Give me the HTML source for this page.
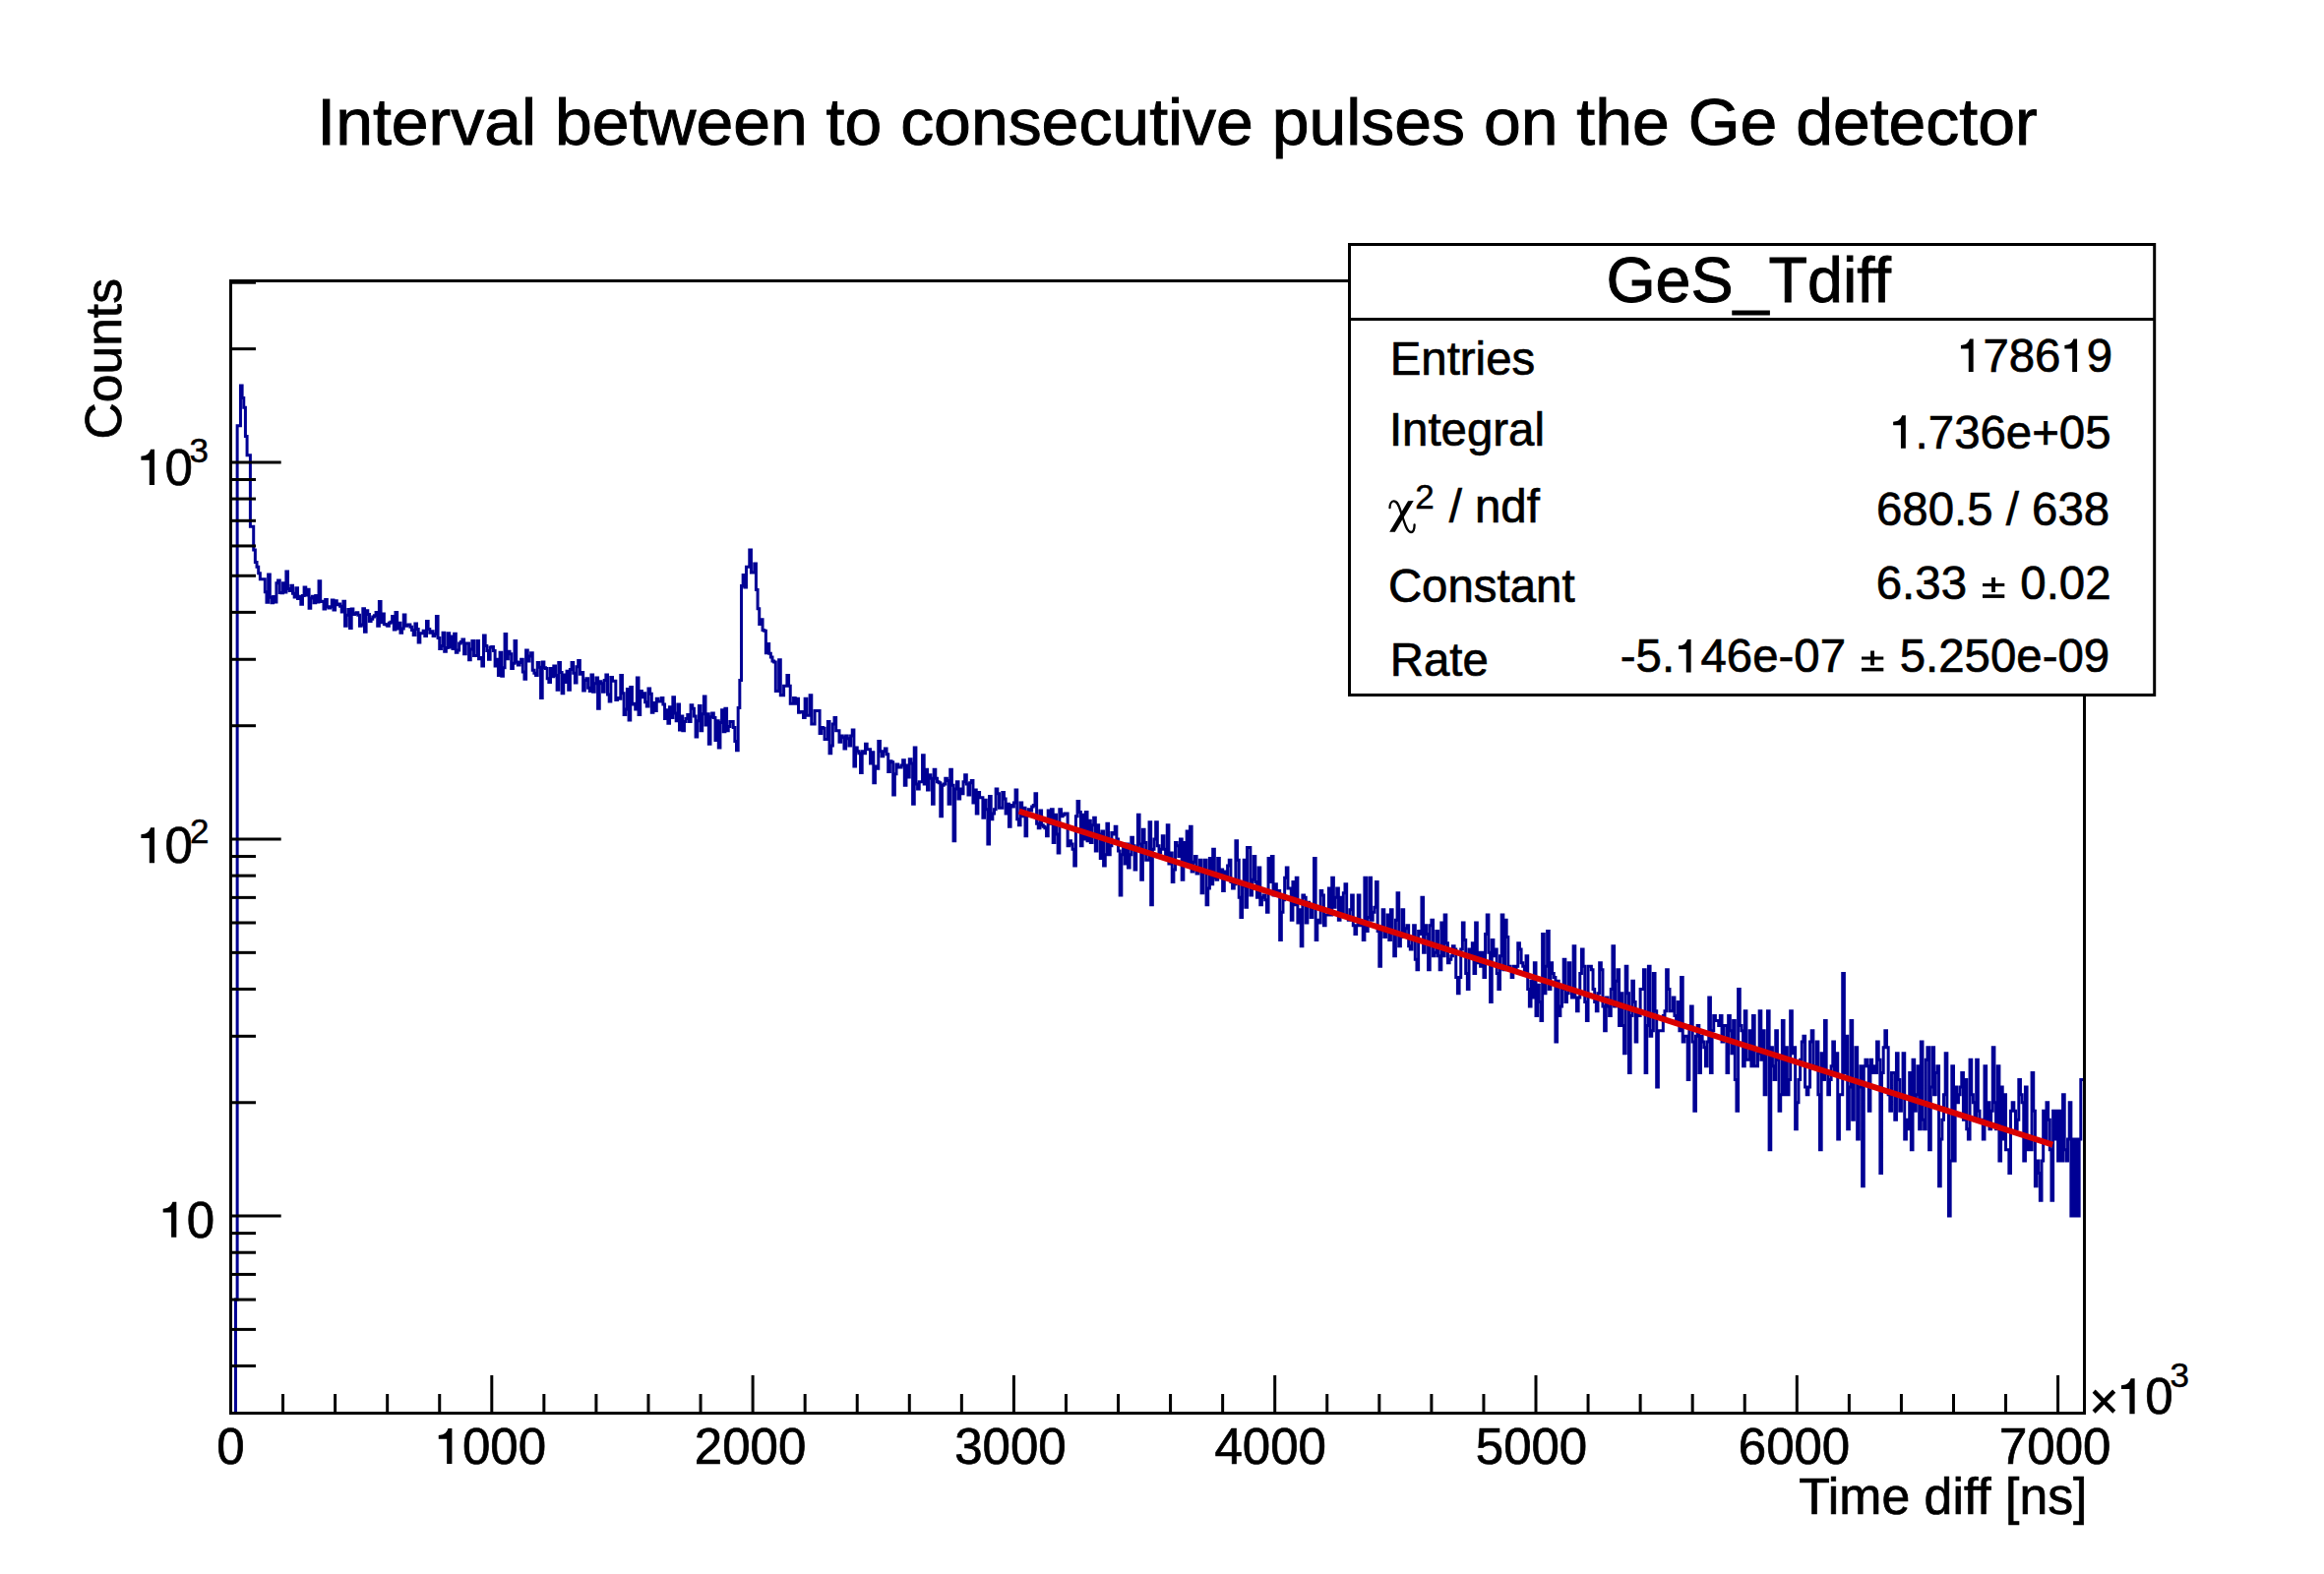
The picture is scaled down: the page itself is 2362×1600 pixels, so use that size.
<!DOCTYPE html>
<html><head><meta charset="utf-8"><title>GeS_Tdiff</title>
<style>html,body{margin:0;padding:0;background:#fff;}svg{display:block;}</style>
</head><body>
<svg width="2362" height="1600" viewBox="0 0 2362 1600" font-family='"Liberation Sans", sans-serif' fill="#000">
<rect x="0" y="0" width="2362" height="1600" fill="#fff"/>
<text x="322.30" y="147.10" font-size="67" text-anchor="start" stroke="#000" stroke-width="0.94" textLength="1748.3" lengthAdjust="spacingAndGlyphs">Interval between to consecutive pulses on the Ge detector</text>
<path d="M239.47 1436.50 L239.47 1321.07 L241.13 1321.07 L241.13 432.71 L242.79 432.71 L242.79 432.71 L244.45 432.71 L244.45 392.09 L246.11 392.09 L246.11 404.52 L247.77 404.52 L247.77 414.35 L249.42 414.35 L249.42 443.42 L251.08 443.42 L251.08 462.81 L252.74 462.81 L252.74 462.81 L254.40 462.81 L254.40 535.36 L256.06 535.36 L256.06 535.36 L257.71 535.36 L257.71 558.88 L259.37 558.88 L259.37 571.56 L261.03 571.56 L261.03 576.22 L262.69 576.22 L262.69 582.64 L264.35 582.64 L264.35 588.64 L266.00 588.64 L266.00 588.64 L267.66 588.64 L267.66 588.64 L269.32 588.64 L269.32 601.71 L270.98 601.71 L270.98 612.32 L272.64 612.32 L272.64 583.96 L274.30 583.96 L274.30 607.31 L275.95 607.31 L275.95 612.71 L277.61 612.71 L277.61 606.55 L279.27 606.55 L279.27 611.93 L280.93 611.93 L280.93 592.77 L282.59 592.77 L282.59 590.01 L284.24 590.01 L284.24 602.44 L285.90 602.44 L285.90 602.81 L287.56 602.81 L287.56 592.77 L289.22 592.77 L289.22 602.07 L290.88 602.07 L290.88 581.01 L292.53 581.01 L292.53 598.43 L294.19 598.43 L294.19 600.61 L295.85 600.61 L295.85 595.22 L297.51 595.22 L297.51 603.18 L299.17 603.18 L299.17 606.93 L300.83 606.93 L300.83 597.71 L302.48 597.71 L302.48 608.45 L304.14 608.45 L304.14 606.17 L305.80 606.17 L305.80 614.29 L307.46 614.29 L307.46 605.42 L309.12 605.42 L309.12 597.00 L310.77 597.00 L310.77 605.04 L312.43 605.04 L312.43 599.15 L314.09 599.15 L314.09 618.30 L315.75 618.30 L315.75 608.07 L317.41 608.07 L317.41 606.17 L319.06 606.17 L319.06 612.71 L320.72 612.71 L320.72 605.42 L322.38 605.42 L322.38 611.93 L324.04 611.93 L324.04 590.69 L325.70 590.69 L325.70 611.54 L327.36 611.54 L327.36 611.15 L329.01 611.15 L329.01 619.11 L330.67 619.11 L330.67 609.60 L332.33 609.60 L332.33 616.68 L333.99 616.68 L333.99 617.89 L335.65 617.89 L335.65 616.68 L337.30 616.68 L337.30 609.99 L338.96 609.99 L338.96 619.93 L340.62 619.93 L340.62 610.76 L342.28 610.76 L342.28 614.68 L343.94 614.68 L343.94 613.89 L345.59 613.89 L345.59 616.28 L347.25 616.28 L347.25 621.99 L348.91 621.99 L348.91 611.15 L350.57 611.15 L350.57 636.28 L352.23 636.28 L352.23 625.34 L353.88 625.34 L353.88 619.52 L355.54 619.52 L355.54 638.55 L357.20 638.55 L357.20 619.11 L358.86 619.11 L358.86 624.50 L360.52 624.50 L360.52 623.66 L362.18 623.66 L362.18 622.82 L363.83 622.82 L363.83 625.34 L365.49 625.34 L365.49 636.28 L367.15 636.28 L367.15 634.93 L368.81 634.93 L368.81 618.70 L370.47 618.70 L370.47 642.26 L372.12 642.26 L372.12 620.75 L373.78 620.75 L373.78 624.50 L375.44 624.50 L375.44 631.38 L377.10 631.38 L377.10 629.20 L378.76 629.20 L378.76 627.04 L380.42 627.04 L380.42 625.77 L382.07 625.77 L382.07 622.40 L383.73 622.40 L383.73 636.28 L385.39 636.28 L385.39 611.54 L387.05 611.54 L387.05 632.70 L388.71 632.70 L388.71 624.08 L390.36 624.08 L390.36 634.48 L392.02 634.48 L392.02 634.93 L393.68 634.93 L393.68 636.28 L395.34 636.28 L395.34 633.14 L397.00 633.14 L397.00 632.26 L398.65 632.26 L398.65 626.62 L400.31 626.62 L400.31 639.93 L401.97 639.93 L401.97 622.40 L403.63 622.40 L403.63 639.01 L405.29 639.01 L405.29 633.14 L406.95 633.14 L406.95 643.20 L408.60 643.20 L408.60 639.01 L410.26 639.01 L410.26 624.92 L411.92 624.92 L411.92 636.28 L413.58 636.28 L413.58 635.37 L415.24 635.37 L415.24 634.93 L416.89 634.93 L416.89 637.18 L418.55 637.18 L418.55 640.40 L420.21 640.40 L420.21 645.57 L421.87 645.57 L421.87 634.03 L423.53 634.03 L423.53 639.47 L425.18 639.47 L425.18 652.90 L426.84 652.90 L426.84 643.67 L428.50 643.67 L428.50 643.67 L430.16 643.67 L430.16 641.32 L431.82 641.32 L431.82 646.53 L433.48 646.53 L433.48 631.38 L435.13 631.38 L435.13 639.47 L436.79 639.47 L436.79 643.20 L438.45 643.20 L438.45 641.79 L440.11 641.79 L440.11 646.53 L441.77 646.53 L441.77 644.62 L443.42 644.62 L443.42 626.62 L445.08 626.62 L445.08 648.47 L446.74 648.47 L446.74 659.53 L448.40 659.53 L448.40 656.44 L450.06 656.44 L450.06 643.20 L451.71 643.20 L451.71 662.15 L453.37 662.15 L453.37 658.49 L455.03 658.49 L455.03 643.67 L456.69 643.67 L456.69 657.97 L458.35 657.97 L458.35 647.01 L460.01 647.01 L460.01 659.53 L461.66 659.53 L461.66 644.14 L463.32 644.14 L463.32 663.21 L464.98 663.21 L464.98 661.09 L466.64 661.09 L466.64 653.90 L468.30 653.90 L468.30 652.40 L469.95 652.40 L469.95 649.93 L471.61 649.93 L471.61 664.81 L473.27 664.81 L473.27 653.90 L474.93 653.90 L474.93 653.90 L476.59 653.90 L476.59 670.82 L478.24 670.82 L478.24 660.05 L479.90 660.05 L479.90 651.41 L481.56 651.41 L481.56 666.43 L483.22 666.43 L483.22 666.43 L484.88 666.43 L484.88 651.41 L486.54 651.41 L486.54 669.71 L488.19 669.71 L488.19 668.61 L489.85 668.61 L489.85 677.06 L491.51 677.06 L491.51 646.05 L493.17 646.05 L493.17 656.44 L494.83 656.44 L494.83 661.62 L496.48 661.62 L496.48 670.26 L498.14 670.26 L498.14 657.97 L499.80 657.97 L499.80 657.46 L501.46 657.46 L501.46 661.62 L503.12 661.62 L503.12 677.06 L504.77 677.06 L504.77 670.26 L506.43 670.26 L506.43 686.56 L508.09 686.56 L508.09 663.21 L509.75 663.21 L509.75 687.18 L511.41 687.18 L511.41 678.80 L513.07 678.80 L513.07 644.62 L514.72 644.62 L514.72 669.71 L516.38 669.71 L516.38 662.15 L518.04 662.15 L518.04 664.81 L519.70 664.81 L519.70 679.38 L521.36 679.38 L521.36 674.19 L523.01 674.19 L523.01 651.41 L524.67 651.41 L524.67 673.06 L526.33 673.06 L526.33 675.90 L527.99 675.90 L527.99 673.62 L529.65 673.62 L529.65 670.26 L531.30 670.26 L531.30 682.93 L532.96 682.93 L532.96 690.27 L534.62 690.27 L534.62 661.09 L536.28 661.09 L536.28 671.94 L537.94 671.94 L537.94 666.97 L539.60 666.97 L539.60 663.74 L541.25 663.74 L541.25 681.15 L542.91 681.15 L542.91 684.14 L544.57 684.14 L544.57 686.56 L546.23 686.56 L546.23 673.62 L547.89 673.62 L547.89 678.21 L549.54 678.21 L549.54 709.48 L551.20 709.48 L551.20 673.06 L552.86 673.06 L552.86 678.80 L554.52 678.80 L554.52 679.38 L556.18 679.38 L556.18 689.65 L557.83 689.65 L557.83 693.43 L559.49 693.43 L559.49 679.38 L561.15 679.38 L561.15 687.79 L562.81 687.79 L562.81 677.06 L564.47 677.06 L564.47 686.56 L566.12 686.56 L566.12 701.26 L567.78 701.26 L567.78 673.62 L569.44 673.62 L569.44 683.53 L571.10 683.53 L571.10 704.64 L572.76 704.64 L572.76 685.95 L574.42 685.95 L574.42 693.43 L576.07 693.43 L576.07 682.34 L577.73 682.34 L577.73 701.26 L579.39 701.26 L579.39 680.56 L581.05 680.56 L581.05 673.62 L582.71 673.62 L582.71 684.14 L584.36 684.14 L584.36 694.07 L586.02 694.07 L586.02 677.63 L587.68 677.63 L587.68 671.38 L589.34 671.38 L589.34 685.35 L591.00 685.35 L591.00 683.53 L592.66 683.53 L592.66 701.93 L594.31 701.93 L594.31 691.53 L595.97 691.53 L595.97 689.65 L597.63 689.65 L597.63 699.27 L599.29 699.27 L599.29 702.60 L600.95 702.60 L600.95 685.95 L602.60 685.95 L602.60 703.28 L604.26 703.28 L604.26 694.71 L605.92 694.71 L605.92 689.03 L607.58 689.03 L607.58 720.36 L609.24 720.36 L609.24 692.80 L610.89 692.80 L610.89 694.71 L612.55 694.71 L612.55 703.28 L614.21 703.28 L614.21 691.53 L615.87 691.53 L615.87 685.95 L617.53 685.95 L617.53 706.01 L619.19 706.01 L619.19 713.03 L620.84 713.03 L620.84 688.41 L622.50 688.41 L622.50 692.16 L624.16 692.16 L624.16 692.16 L625.82 692.16 L625.82 711.60 L627.48 711.60 L627.48 709.48 L629.13 709.48 L629.13 710.18 L630.79 710.18 L630.79 686.56 L632.45 686.56 L632.45 704.64 L634.11 704.64 L634.11 726.46 L635.77 726.46 L635.77 721.11 L637.42 721.11 L637.42 700.60 L639.08 700.60 L639.08 731.99 L640.74 731.99 L640.74 698.61 L642.40 698.61 L642.40 715.92 L644.06 715.92 L644.06 715.19 L645.72 715.19 L645.72 721.11 L647.37 721.11 L647.37 689.03 L649.03 689.03 L649.03 726.46 L650.69 726.46 L650.69 702.60 L652.35 702.60 L652.35 708.78 L654.01 708.78 L654.01 704.64 L655.66 704.64 L655.66 713.74 L657.32 713.74 L657.32 718.12 L658.98 718.12 L658.98 699.93 L660.64 699.93 L660.64 705.32 L662.30 705.32 L662.30 724.15 L663.95 724.15 L663.95 714.47 L665.61 714.47 L665.61 722.62 L667.27 722.62 L667.27 710.18 L668.93 710.18 L668.93 713.03 L670.59 713.03 L670.59 713.03 L672.25 713.03 L672.25 709.48 L673.90 709.48 L673.90 715.92 L675.56 715.92 L675.56 730.39 L677.22 730.39 L677.22 721.86 L678.88 721.86 L678.88 735.24 L680.54 735.24 L680.54 718.86 L682.19 718.86 L682.19 729.60 L683.85 729.60 L683.85 708.78 L685.51 708.78 L685.51 724.91 L687.17 724.91 L687.17 732.80 L688.83 732.80 L688.83 715.92 L690.48 715.92 L690.48 741.93 L692.14 741.93 L692.14 728.02 L693.80 728.02 L693.80 742.78 L695.46 742.78 L695.46 733.61 L697.12 733.61 L697.12 730.39 L698.78 730.39 L698.78 726.46 L700.43 726.46 L700.43 733.61 L702.09 733.61 L702.09 716.65 L703.75 716.65 L703.75 720.36 L705.41 720.36 L705.41 728.02 L707.07 728.02 L707.07 748.90 L708.72 748.90 L708.72 732.80 L710.38 732.80 L710.38 717.39 L712.04 717.39 L712.04 742.78 L713.70 742.78 L713.70 725.69 L715.36 725.69 L715.36 708.08 L717.01 708.08 L717.01 736.89 L718.67 736.89 L718.67 725.69 L720.33 725.69 L720.33 756.17 L721.99 756.17 L721.99 728.81 L723.65 728.81 L723.65 724.91 L725.31 724.91 L725.31 729.60 L726.96 729.60 L726.96 752.50 L728.62 752.50 L728.62 732.80 L730.28 732.80 L730.28 759.93 L731.94 759.93 L731.94 734.42 L733.60 734.42 L733.60 721.86 L735.25 721.86 L735.25 743.64 L736.91 743.64 L736.91 720.36 L738.57 720.36 L738.57 742.78 L740.23 742.78 L740.23 738.55 L741.89 738.55 L741.89 733.61 L743.54 733.61 L743.54 733.61 L745.20 733.61 L745.20 739.39 L746.86 739.39 L746.86 753.41 L748.52 753.41 L748.52 762.81 L750.18 762.81 L750.18 719.61 L751.84 719.61 L751.84 691.53 L753.49 691.53 L753.49 595.58 L755.15 595.58 L755.15 584.62 L756.81 584.62 L756.81 597.00 L758.47 597.00 L758.47 576.22 L760.13 576.22 L760.13 576.22 L761.78 576.22 L761.78 558.88 L763.44 558.88 L763.44 581.99 L765.10 581.99 L765.10 581.99 L766.76 581.99 L766.76 573.10 L768.42 573.10 L768.42 599.52 L770.07 599.52 L770.07 618.70 L771.73 618.70 L771.73 634.48 L773.39 634.48 L773.39 629.63 L775.05 629.63 L775.05 640.40 L776.71 640.40 L776.71 641.32 L778.37 641.32 L778.37 663.74 L780.02 663.74 L780.02 654.41 L781.68 654.41 L781.68 664.27 L783.34 664.27 L783.34 668.06 L785.00 668.06 L785.00 671.94 L786.66 671.94 L786.66 673.06 L788.31 673.06 L788.31 702.60 L789.97 702.60 L789.97 702.60 L791.63 702.60 L791.63 670.82 L793.29 670.82 L793.29 706.69 L794.95 706.69 L794.95 706.69 L796.60 706.69 L796.60 697.30 L798.26 697.30 L798.26 697.30 L799.92 697.30 L799.92 686.56 L801.58 686.56 L801.58 697.30 L803.24 697.30 L803.24 715.19 L804.90 715.19 L804.90 715.19 L806.55 715.19 L806.55 709.48 L808.21 709.48 L808.21 715.19 L809.87 715.19 L809.87 710.18 L811.53 710.18 L811.53 724.15 L813.19 724.15 L813.19 723.38 L814.84 723.38 L814.84 723.38 L816.50 723.38 L816.50 729.60 L818.16 729.60 L818.16 710.18 L819.82 710.18 L819.82 727.24 L821.48 727.24 L821.48 727.24 L823.13 727.24 L823.13 706.69 L824.79 706.69 L824.79 736.06 L826.45 736.06 L826.45 736.06 L828.11 736.06 L828.11 722.62 L829.77 722.62 L829.77 722.62 L831.43 722.62 L831.43 722.62 L833.08 722.62 L833.08 745.38 L834.74 745.38 L834.74 739.39 L836.40 739.39 L836.40 740.23 L838.06 740.23 L838.06 751.59 L839.72 751.59 L839.72 751.59 L841.37 751.59 L841.37 733.61 L843.03 733.61 L843.03 765.74 L844.69 765.74 L844.69 758.04 L846.35 758.04 L846.35 736.06 L848.01 736.06 L848.01 729.60 L849.66 729.60 L849.66 742.78 L851.32 742.78 L851.32 742.78 L852.98 742.78 L852.98 754.32 L854.64 754.32 L854.64 748.01 L856.30 748.01 L856.30 749.79 L857.96 749.79 L857.96 760.89 L859.61 760.89 L859.61 748.01 L861.27 748.01 L861.27 750.69 L862.93 750.69 L862.93 758.04 L864.59 758.04 L864.59 748.01 L866.25 748.01 L866.25 741.93 L867.90 741.93 L867.90 779.05 L869.56 779.05 L869.56 759.93 L871.22 759.93 L871.22 763.78 L872.88 763.78 L872.88 765.74 L874.54 765.74 L874.54 785.58 L876.19 785.58 L876.19 763.78 L877.85 763.78 L877.85 765.74 L879.51 765.74 L879.51 756.17 L881.17 756.17 L881.17 761.84 L882.83 761.84 L882.83 761.84 L884.49 761.84 L884.49 775.88 L886.14 775.88 L886.14 764.75 L887.80 764.75 L887.80 795.87 L889.46 795.87 L889.46 779.05 L891.12 779.05 L891.12 781.20 L892.78 781.20 L892.78 753.41 L894.43 753.41 L894.43 763.78 L896.09 763.78 L896.09 768.72 L897.75 768.72 L897.75 763.78 L899.41 763.78 L899.41 760.89 L901.07 760.89 L901.07 766.72 L902.72 766.72 L902.72 784.47 L904.38 784.47 L904.38 773.80 L906.04 773.80 L906.04 774.84 L907.70 774.84 L907.70 808.11 L909.36 808.11 L909.36 786.69 L911.02 786.69 L911.02 776.93 L912.67 776.93 L912.67 780.12 L914.33 780.12 L914.33 780.12 L915.99 780.12 L915.99 777.99 L917.65 777.99 L917.65 772.77 L919.31 772.77 L919.31 798.25 L920.96 798.25 L920.96 777.99 L922.62 777.99 L922.62 790.07 L924.28 790.07 L924.28 771.75 L925.94 771.75 L925.94 775.88 L927.60 775.88 L927.60 817.24 L929.25 817.24 L929.25 759.93 L930.91 759.93 L930.91 797.05 L932.57 797.05 L932.57 801.88 L934.23 801.88 L934.23 794.69 L935.89 794.69 L935.89 794.69 L937.55 794.69 L937.55 767.72 L939.20 767.72 L939.20 797.05 L940.86 797.05 L940.86 782.28 L942.52 782.28 L942.52 803.10 L944.18 803.10 L944.18 787.81 L945.84 787.81 L945.84 791.22 L947.49 791.22 L947.49 817.24 L949.15 817.24 L949.15 782.28 L950.81 782.28 L950.81 791.22 L952.47 791.22 L952.47 794.69 L954.13 794.69 L954.13 795.87 L955.78 795.87 L955.78 829.78 L957.44 829.78 L957.44 798.25 L959.10 798.25 L959.10 797.05 L960.76 797.05 L960.76 791.22 L962.42 791.22 L962.42 793.53 L964.08 793.53 L964.08 817.24 L965.73 817.24 L965.73 782.28 L967.39 782.28 L967.39 798.25 L969.05 798.25 L969.05 854.70 L970.71 854.70 L970.71 801.88 L972.37 801.88 L972.37 794.69 L974.02 794.69 L974.02 811.96 L975.68 811.96 L975.68 801.88 L977.34 801.88 L977.34 806.84 L979.00 806.84 L979.00 794.69 L980.66 794.69 L980.66 787.81 L982.31 787.81 L982.31 797.05 L983.97 797.05 L983.97 808.11 L985.63 808.11 L985.63 795.87 L987.29 795.87 L987.29 793.53 L988.95 793.53 L988.95 815.91 L990.61 815.91 L990.61 803.10 L992.26 803.10 L992.26 826.91 L993.92 826.91 L993.92 805.59 L995.58 805.59 L995.58 810.67 L997.24 810.67 L997.24 810.67 L998.90 810.67 L998.90 831.23 L1000.55 831.23 L1000.55 813.27 L1002.21 813.27 L1002.21 822.70 L1003.87 822.70 L1003.87 858.10 L1005.53 858.10 L1005.53 809.38 L1007.19 809.38 L1007.19 832.70 L1008.84 832.70 L1008.84 826.91 L1010.50 826.91 L1010.50 822.70 L1012.16 822.70 L1012.16 801.88 L1013.82 801.88 L1013.82 806.84 L1015.48 806.84 L1015.48 821.32 L1017.14 821.32 L1017.14 821.32 L1018.79 821.32 L1018.79 805.59 L1020.45 805.59 L1020.45 811.96 L1022.11 811.96 L1022.11 826.91 L1023.77 826.91 L1023.77 817.24 L1025.43 817.24 L1025.43 840.23 L1027.08 840.23 L1027.08 818.59 L1028.74 818.59 L1028.74 819.95 L1030.40 819.95 L1030.40 815.91 L1032.06 815.91 L1032.06 803.10 L1033.72 803.10 L1033.72 832.70 L1035.37 832.70 L1035.37 838.69 L1037.03 838.69 L1037.03 815.91 L1038.69 815.91 L1038.69 829.78 L1040.35 829.78 L1040.35 821.32 L1042.01 821.32 L1042.01 849.74 L1043.67 849.74 L1043.67 825.49 L1045.32 825.49 L1045.32 822.70 L1046.98 822.70 L1046.98 824.09 L1048.64 824.09 L1048.64 819.95 L1050.30 819.95 L1050.30 818.59 L1051.96 818.59 L1051.96 806.84 L1053.61 806.84 L1053.61 837.17 L1055.27 837.17 L1055.27 841.77 L1056.93 841.77 L1056.93 824.09 L1058.59 824.09 L1058.59 838.69 L1060.25 838.69 L1060.25 840.23 L1061.90 840.23 L1061.90 841.77 L1063.56 841.77 L1063.56 849.74 L1065.22 849.74 L1065.22 824.09 L1066.88 824.09 L1066.88 837.17 L1068.54 837.17 L1068.54 822.70 L1070.20 822.70 L1070.20 856.39 L1071.85 856.39 L1071.85 828.34 L1073.51 828.34 L1073.51 848.11 L1075.17 848.11 L1075.17 866.90 L1076.83 866.90 L1076.83 822.70 L1078.49 822.70 L1078.49 829.78 L1080.14 829.78 L1080.14 828.34 L1081.80 828.34 L1081.80 826.91 L1083.46 826.91 L1083.46 826.91 L1085.12 826.91 L1085.12 859.82 L1086.78 859.82 L1086.78 854.70 L1088.43 854.70 L1088.43 858.10 L1090.09 858.10 L1090.09 863.32 L1091.75 863.32 L1091.75 880.07 L1093.41 880.07 L1093.41 829.78 L1095.07 829.78 L1095.07 814.58 L1096.73 814.58 L1096.73 825.49 L1098.38 825.49 L1098.38 859.82 L1100.04 859.82 L1100.04 828.34 L1101.70 828.34 L1101.70 853.03 L1103.36 853.03 L1103.36 825.49 L1105.02 825.49 L1105.02 854.70 L1106.67 854.70 L1106.67 834.18 L1108.33 834.18 L1108.33 856.39 L1109.99 856.39 L1109.99 838.69 L1111.65 838.69 L1111.65 831.23 L1113.31 831.23 L1113.31 865.10 L1114.96 865.10 L1114.96 838.69 L1116.62 838.69 L1116.62 848.11 L1118.28 848.11 L1118.28 872.42 L1119.94 872.42 L1119.94 844.91 L1121.60 844.91 L1121.60 880.07 L1123.26 880.07 L1123.26 868.72 L1124.91 868.72 L1124.91 837.17 L1126.57 837.17 L1126.57 868.72 L1128.23 868.72 L1128.23 859.82 L1129.89 859.82 L1129.89 846.51 L1131.55 846.51 L1131.55 848.11 L1133.20 848.11 L1133.20 840.23 L1134.86 840.23 L1134.86 853.03 L1136.52 853.03 L1136.52 865.10 L1138.18 865.10 L1138.18 910.01 L1139.84 910.01 L1139.84 868.72 L1141.49 868.72 L1141.49 858.10 L1143.15 858.10 L1143.15 878.12 L1144.81 878.12 L1144.81 858.10 L1146.47 858.10 L1146.47 882.04 L1148.13 882.04 L1148.13 868.72 L1149.79 868.72 L1149.79 851.37 L1151.44 851.37 L1151.44 859.82 L1153.10 859.82 L1153.10 884.03 L1154.76 884.03 L1154.76 863.32 L1156.42 863.32 L1156.42 828.34 L1158.08 828.34 L1158.08 858.10 L1159.73 858.10 L1159.73 894.36 L1161.39 894.36 L1161.39 843.34 L1163.05 843.34 L1163.05 856.39 L1164.71 856.39 L1164.71 874.30 L1166.37 874.30 L1166.37 874.30 L1168.02 874.30 L1168.02 835.67 L1169.68 835.67 L1169.68 919.65 L1171.34 919.65 L1171.34 863.32 L1173.00 863.32 L1173.00 853.03 L1174.66 853.03 L1174.66 835.67 L1176.32 835.67 L1176.32 859.82 L1177.97 859.82 L1177.97 866.90 L1179.63 866.90 L1179.63 863.32 L1181.29 863.32 L1181.29 849.74 L1182.95 849.74 L1182.95 863.32 L1184.61 863.32 L1184.61 868.72 L1186.26 868.72 L1186.26 838.69 L1187.92 838.69 L1187.92 878.12 L1189.58 878.12 L1189.58 866.90 L1191.24 866.90 L1191.24 896.51 L1192.90 896.51 L1192.90 884.03 L1194.55 884.03 L1194.55 856.39 L1196.21 856.39 L1196.21 859.82 L1197.87 859.82 L1197.87 870.56 L1199.53 870.56 L1199.53 853.03 L1201.19 853.03 L1201.19 894.36 L1202.85 894.36 L1202.85 856.39 L1204.50 856.39 L1204.50 878.12 L1206.16 878.12 L1206.16 844.91 L1207.82 844.91 L1207.82 878.12 L1209.48 878.12 L1209.48 840.23 L1211.14 840.23 L1211.14 886.04 L1212.79 886.04 L1212.79 876.20 L1214.45 876.20 L1214.45 870.56 L1216.11 870.56 L1216.11 888.09 L1217.77 888.09 L1217.77 882.04 L1219.43 882.04 L1219.43 874.30 L1221.08 874.30 L1221.08 907.68 L1222.74 907.68 L1222.74 886.04 L1224.40 886.04 L1224.40 874.30 L1226.06 874.30 L1226.06 919.65 L1227.72 919.65 L1227.72 903.12 L1229.38 903.12 L1229.38 872.42 L1231.03 872.42 L1231.03 898.69 L1232.69 898.69 L1232.69 863.32 L1234.35 863.32 L1234.35 892.24 L1236.01 892.24 L1236.01 894.36 L1237.67 894.36 L1237.67 872.42 L1239.32 872.42 L1239.32 890.15 L1240.98 890.15 L1240.98 884.03 L1242.64 884.03 L1242.64 905.39 L1244.30 905.39 L1244.30 886.04 L1245.96 886.04 L1245.96 890.15 L1247.61 890.15 L1247.61 880.07 L1249.27 880.07 L1249.27 874.30 L1250.93 874.30 L1250.93 896.51 L1252.59 896.51 L1252.59 903.12 L1254.25 903.12 L1254.25 898.69 L1255.91 898.69 L1255.91 854.70 L1257.56 854.70 L1257.56 874.30 L1259.22 874.30 L1259.22 912.37 L1260.88 912.37 L1260.88 932.56 L1262.54 932.56 L1262.54 900.89 L1264.20 900.89 L1264.20 874.30 L1265.85 874.30 L1265.85 922.16 L1267.51 922.16 L1267.51 861.56 L1269.17 861.56 L1269.17 861.56 L1270.83 861.56 L1270.83 910.01 L1272.49 910.01 L1272.49 894.36 L1274.14 894.36 L1274.14 870.56 L1275.80 870.56 L1275.80 896.51 L1277.46 896.51 L1277.46 912.37 L1279.12 912.37 L1279.12 882.04 L1280.78 882.04 L1280.78 919.65 L1282.44 919.65 L1282.44 912.37 L1284.09 912.37 L1284.09 910.01 L1285.75 910.01 L1285.75 914.76 L1287.41 914.76 L1287.41 927.27 L1289.07 927.27 L1289.07 872.42 L1290.73 872.42 L1290.73 896.51 L1292.38 896.51 L1292.38 870.56 L1294.04 870.56 L1294.04 910.01 L1295.70 910.01 L1295.70 898.69 L1297.36 898.69 L1297.36 907.68 L1299.02 907.68 L1299.02 905.39 L1300.67 905.39 L1300.67 955.54 L1302.33 955.54 L1302.33 927.27 L1303.99 927.27 L1303.99 914.76 L1305.65 914.76 L1305.65 892.24 L1307.31 892.24 L1307.31 882.04 L1308.97 882.04 L1308.97 903.12 L1310.62 903.12 L1310.62 903.12 L1312.28 903.12 L1312.28 935.26 L1313.94 935.26 L1313.94 896.51 L1315.60 896.51 L1315.60 919.65 L1317.26 919.65 L1317.26 892.24 L1318.91 892.24 L1318.91 938.01 L1320.57 938.01 L1320.57 924.70 L1322.23 924.70 L1322.23 961.82 L1323.89 961.82 L1323.89 910.01 L1325.55 910.01 L1325.55 912.37 L1327.20 912.37 L1327.20 938.01 L1328.86 938.01 L1328.86 917.19 L1330.52 917.19 L1330.52 919.65 L1332.18 919.65 L1332.18 932.56 L1333.84 932.56 L1333.84 922.16 L1335.50 922.16 L1335.50 872.42 L1337.15 872.42 L1337.15 955.54 L1338.81 955.54 L1338.81 935.26 L1340.47 935.26 L1340.47 938.01 L1342.13 938.01 L1342.13 905.39 L1343.79 905.39 L1343.79 910.01 L1345.44 910.01 L1345.44 940.81 L1347.10 940.81 L1347.10 929.89 L1348.76 929.89 L1348.76 929.89 L1350.42 929.89 L1350.42 903.12 L1352.08 903.12 L1352.08 929.89 L1353.73 929.89 L1353.73 892.24 L1355.39 892.24 L1355.39 922.16 L1357.05 922.16 L1357.05 912.37 L1358.71 912.37 L1358.71 903.12 L1360.37 903.12 L1360.37 935.26 L1362.03 935.26 L1362.03 912.37 L1363.68 912.37 L1363.68 929.89 L1365.34 929.89 L1365.34 907.68 L1367.00 907.68 L1367.00 898.69 L1368.66 898.69 L1368.66 932.56 L1370.32 932.56 L1370.32 935.26 L1371.97 935.26 L1371.97 924.70 L1373.63 924.70 L1373.63 910.01 L1375.29 910.01 L1375.29 940.81 L1376.95 940.81 L1376.95 949.49 L1378.61 949.49 L1378.61 940.81 L1380.26 940.81 L1380.26 910.01 L1381.92 910.01 L1381.92 940.81 L1383.58 940.81 L1383.58 940.81 L1385.24 940.81 L1385.24 955.54 L1386.90 955.54 L1386.90 892.24 L1388.56 892.24 L1388.56 946.54 L1390.21 946.54 L1390.21 932.56 L1391.87 932.56 L1391.87 892.24 L1393.53 892.24 L1393.53 935.26 L1395.19 935.26 L1395.19 927.27 L1396.85 927.27 L1396.85 922.16 L1398.50 922.16 L1398.50 896.51 L1400.16 896.51 L1400.16 946.54 L1401.82 946.54 L1401.82 982.21 L1403.48 982.21 L1403.48 943.65 L1405.14 943.65 L1405.14 924.70 L1406.79 924.70 L1406.79 952.49 L1408.45 952.49 L1408.45 943.65 L1410.11 943.65 L1410.11 929.89 L1411.77 929.89 L1411.77 955.54 L1413.43 955.54 L1413.43 924.70 L1415.09 924.70 L1415.09 946.54 L1416.74 946.54 L1416.74 971.70 L1418.40 971.70 L1418.40 935.26 L1420.06 935.26 L1420.06 907.68 L1421.72 907.68 L1421.72 961.82 L1423.38 961.82 L1423.38 952.49 L1425.03 952.49 L1425.03 924.70 L1426.69 924.70 L1426.69 952.49 L1428.35 952.49 L1428.35 943.65 L1430.01 943.65 L1430.01 940.81 L1431.67 940.81 L1431.67 961.82 L1433.32 961.82 L1433.32 965.05 L1434.98 965.05 L1434.98 952.49 L1436.64 952.49 L1436.64 940.81 L1438.30 940.81 L1438.30 975.13 L1439.96 975.13 L1439.96 985.87 L1441.62 985.87 L1441.62 946.54 L1443.27 946.54 L1443.27 949.49 L1444.93 949.49 L1444.93 912.37 L1446.59 912.37 L1446.59 968.34 L1448.25 968.34 L1448.25 940.81 L1449.91 940.81 L1449.91 949.49 L1451.56 949.49 L1451.56 985.87 L1453.22 985.87 L1453.22 940.81 L1454.88 940.81 L1454.88 935.26 L1456.54 935.26 L1456.54 971.70 L1458.20 971.70 L1458.20 968.34 L1459.85 968.34 L1459.85 946.54 L1461.51 946.54 L1461.51 971.70 L1463.17 971.70 L1463.17 985.87 L1464.83 985.87 L1464.83 938.01 L1466.49 938.01 L1466.49 971.70 L1468.15 971.70 L1468.15 929.89 L1469.80 929.89 L1469.80 958.65 L1471.46 958.65 L1471.46 978.64 L1473.12 978.64 L1473.12 975.13 L1474.78 975.13 L1474.78 971.70 L1476.44 971.70 L1476.44 961.82 L1478.09 961.82 L1478.09 965.05 L1479.75 965.05 L1479.75 993.43 L1481.41 993.43 L1481.41 1009.68 L1483.07 1009.68 L1483.07 993.43 L1484.73 993.43 L1484.73 965.05 L1486.38 965.05 L1486.38 938.01 L1488.04 938.01 L1488.04 955.54 L1489.70 955.54 L1489.70 989.61 L1491.36 989.61 L1491.36 1005.46 L1493.02 1005.46 L1493.02 965.05 L1494.68 965.05 L1494.68 971.70 L1496.33 971.70 L1496.33 958.65 L1497.99 958.65 L1497.99 989.61 L1499.65 989.61 L1499.65 938.01 L1501.31 938.01 L1501.31 978.64 L1502.97 978.64 L1502.97 968.34 L1504.62 968.34 L1504.62 982.21 L1506.28 982.21 L1506.28 968.34 L1507.94 968.34 L1507.94 993.43 L1509.60 993.43 L1509.60 949.49 L1511.26 949.49 L1511.26 929.89 L1512.91 929.89 L1512.91 968.34 L1514.57 968.34 L1514.57 1018.43 L1516.23 1018.43 L1516.23 955.54 L1517.89 955.54 L1517.89 971.70 L1519.55 971.70 L1519.55 965.05 L1521.21 965.05 L1521.21 989.61 L1522.86 989.61 L1522.86 1005.46 L1524.52 1005.46 L1524.52 971.70 L1526.18 971.70 L1526.18 929.89 L1527.84 929.89 L1527.84 985.87 L1529.50 985.87 L1529.50 935.26 L1531.15 935.26 L1531.15 952.49 L1532.81 952.49 L1532.81 982.21 L1534.47 982.21 L1534.47 985.87 L1536.13 985.87 L1536.13 993.43 L1537.79 993.43 L1537.79 982.21 L1539.44 982.21 L1539.44 985.87 L1541.10 985.87 L1541.10 982.21 L1542.76 982.21 L1542.76 958.65 L1544.42 958.65 L1544.42 965.05 L1546.08 965.05 L1546.08 978.64 L1547.74 978.64 L1547.74 982.21 L1549.39 982.21 L1549.39 989.61 L1551.05 989.61 L1551.05 971.70 L1552.71 971.70 L1552.71 1005.46 L1554.37 1005.46 L1554.37 1022.99 L1556.03 1022.99 L1556.03 997.35 L1557.68 997.35 L1557.68 1014.00 L1559.34 1014.00 L1559.34 978.64 L1561.00 978.64 L1561.00 1032.50 L1562.66 1032.50 L1562.66 1001.36 L1564.32 1001.36 L1564.32 1018.43 L1565.97 1018.43 L1565.97 1037.47 L1567.63 1037.47 L1567.63 949.49 L1569.29 949.49 L1569.29 1009.68 L1570.95 1009.68 L1570.95 982.21 L1572.61 982.21 L1572.61 946.54 L1574.27 946.54 L1574.27 1005.46 L1575.92 1005.46 L1575.92 978.64 L1577.58 978.64 L1577.58 989.61 L1579.24 989.61 L1579.24 993.43 L1580.90 993.43 L1580.90 1058.96 L1582.56 1058.96 L1582.56 997.35 L1584.21 997.35 L1584.21 1032.50 L1585.87 1032.50 L1585.87 1022.99 L1587.53 1022.99 L1587.53 1005.46 L1589.19 1005.46 L1589.19 975.13 L1590.85 975.13 L1590.85 1018.43 L1592.50 1018.43 L1592.50 1009.68 L1594.16 1009.68 L1594.16 978.64 L1595.82 978.64 L1595.82 1005.46 L1597.48 1005.46 L1597.48 1014.00 L1599.14 1014.00 L1599.14 961.82 L1600.80 961.82 L1600.80 1014.00 L1602.45 1014.00 L1602.45 1027.68 L1604.11 1027.68 L1604.11 1014.00 L1605.77 1014.00 L1605.77 989.61 L1607.43 989.61 L1607.43 965.05 L1609.09 965.05 L1609.09 982.21 L1610.74 982.21 L1610.74 1018.43 L1612.40 1018.43 L1612.40 1037.47 L1614.06 1037.47 L1614.06 982.21 L1615.72 982.21 L1615.72 982.21 L1617.38 982.21 L1617.38 985.87 L1619.03 985.87 L1619.03 1005.46 L1620.69 1005.46 L1620.69 1018.43 L1622.35 1018.43 L1622.35 1027.68 L1624.01 1027.68 L1624.01 1009.68 L1625.67 1009.68 L1625.67 978.64 L1627.33 978.64 L1627.33 985.87 L1628.98 985.87 L1628.98 1022.99 L1630.64 1022.99 L1630.64 1047.87 L1632.30 1047.87 L1632.30 1014.00 L1633.96 1014.00 L1633.96 1022.99 L1635.62 1022.99 L1635.62 1032.50 L1637.27 1032.50 L1637.27 1005.46 L1638.93 1005.46 L1638.93 961.82 L1640.59 961.82 L1640.59 1022.99 L1642.25 1022.99 L1642.25 997.35 L1643.91 997.35 L1643.91 985.87 L1645.56 985.87 L1645.56 1042.59 L1647.22 1042.59 L1647.22 1009.68 L1648.88 1009.68 L1648.88 1042.59 L1650.54 1042.59 L1650.54 1070.85 L1652.20 1070.85 L1652.20 982.21 L1653.86 982.21 L1653.86 1009.68 L1655.51 1009.68 L1655.51 1090.45 L1657.17 1090.45 L1657.17 1032.50 L1658.83 1032.50 L1658.83 997.35 L1660.49 997.35 L1660.49 1018.43 L1662.15 1018.43 L1662.15 1058.96 L1663.80 1058.96 L1663.80 1027.68 L1665.46 1027.68 L1665.46 1032.50 L1667.12 1032.50 L1667.12 1005.46 L1668.78 1005.46 L1668.78 1005.46 L1670.44 1005.46 L1670.44 985.87 L1672.09 985.87 L1672.09 1090.45 L1673.75 1090.45 L1673.75 1042.59 L1675.41 1042.59 L1675.41 982.21 L1677.07 982.21 L1677.07 1053.32 L1678.73 1053.32 L1678.73 1047.87 L1680.39 1047.87 L1680.39 989.61 L1682.04 989.61 L1682.04 1027.68 L1683.70 1027.68 L1683.70 1104.92 L1685.36 1104.92 L1685.36 1047.87 L1687.02 1047.87 L1687.02 1047.87 L1688.68 1047.87 L1688.68 1047.87 L1690.33 1047.87 L1690.33 1032.50 L1691.99 1032.50 L1691.99 1027.68 L1693.65 1027.68 L1693.65 985.87 L1695.31 985.87 L1695.31 1005.46 L1696.97 1005.46 L1696.97 1027.68 L1698.62 1027.68 L1698.62 1027.68 L1700.28 1027.68 L1700.28 1014.00 L1701.94 1014.00 L1701.94 1032.50 L1703.60 1032.50 L1703.60 1037.47 L1705.26 1037.47 L1705.26 1018.43 L1706.92 1018.43 L1706.92 1047.87 L1708.57 1047.87 L1708.57 993.43 L1710.23 993.43 L1710.23 1058.96 L1711.89 1058.96 L1711.89 1053.32 L1713.55 1053.32 L1713.55 1053.32 L1715.21 1053.32 L1715.21 1097.53 L1716.86 1097.53 L1716.86 1042.59 L1718.52 1042.59 L1718.52 1022.99 L1720.18 1022.99 L1720.18 1058.96 L1721.84 1058.96 L1721.84 1129.31 L1723.50 1129.31 L1723.50 1053.32 L1725.15 1053.32 L1725.15 1042.59 L1726.81 1042.59 L1726.81 1090.45 L1728.47 1090.45 L1728.47 1053.32 L1730.13 1053.32 L1730.13 1058.96 L1731.79 1058.96 L1731.79 1064.80 L1733.45 1064.80 L1733.45 1083.66 L1735.10 1083.66 L1735.10 1058.96 L1736.76 1058.96 L1736.76 1014.00 L1738.42 1014.00 L1738.42 1090.45 L1740.08 1090.45 L1740.08 1047.87 L1741.74 1047.87 L1741.74 1032.50 L1743.39 1032.50 L1743.39 1037.47 L1745.05 1037.47 L1745.05 1037.47 L1746.71 1037.47 L1746.71 1042.59 L1748.37 1042.59 L1748.37 1032.50 L1750.03 1032.50 L1750.03 1058.96 L1751.68 1058.96 L1751.68 1042.59 L1753.34 1042.59 L1753.34 1042.59 L1755.00 1042.59 L1755.00 1090.45 L1756.66 1090.45 L1756.66 1032.50 L1758.32 1032.50 L1758.32 1047.87 L1759.98 1047.87 L1759.98 1070.85 L1761.63 1070.85 L1761.63 1037.47 L1763.29 1037.47 L1763.29 1097.53 L1764.95 1097.53 L1764.95 1129.31 L1766.61 1129.31 L1766.61 1005.46 L1768.27 1005.46 L1768.27 1042.59 L1769.92 1042.59 L1769.92 1047.87 L1771.58 1047.87 L1771.58 1083.66 L1773.24 1083.66 L1773.24 1027.68 L1774.90 1027.68 L1774.90 1077.13 L1776.56 1077.13 L1776.56 1077.13 L1778.21 1077.13 L1778.21 1047.87 L1779.87 1047.87 L1779.87 1083.66 L1781.53 1083.66 L1781.53 1032.50 L1783.19 1032.50 L1783.19 1083.66 L1784.85 1083.66 L1784.85 1083.66 L1786.51 1083.66 L1786.51 1070.85 L1788.16 1070.85 L1788.16 1027.68 L1789.82 1027.68 L1789.82 1077.13 L1791.48 1077.13 L1791.48 1047.87 L1793.14 1047.87 L1793.14 1112.66 L1794.80 1112.66 L1794.80 1070.85 L1796.45 1070.85 L1796.45 1027.68 L1798.11 1027.68 L1798.11 1168.64 L1799.77 1168.64 L1799.77 1064.80 L1801.43 1064.80 L1801.43 1083.66 L1803.09 1083.66 L1803.09 1097.53 L1804.74 1097.53 L1804.74 1047.87 L1806.40 1047.87 L1806.40 1077.13 L1808.06 1077.13 L1808.06 1129.31 L1809.72 1129.31 L1809.72 1112.66 L1811.38 1112.66 L1811.38 1037.47 L1813.04 1037.47 L1813.04 1112.66 L1814.69 1112.66 L1814.69 1064.80 L1816.35 1064.80 L1816.35 1112.66 L1818.01 1112.66 L1818.01 1097.53 L1819.67 1097.53 L1819.67 1027.68 L1821.33 1027.68 L1821.33 1070.85 L1822.98 1070.85 L1822.98 1064.80 L1824.64 1064.80 L1824.64 1147.81 L1826.30 1147.81 L1826.30 1120.78 L1827.96 1120.78 L1827.96 1097.53 L1829.62 1097.53 L1829.62 1077.13 L1831.27 1077.13 L1831.27 1058.96 L1832.93 1058.96 L1832.93 1053.32 L1834.59 1053.32 L1834.59 1104.92 L1836.25 1104.92 L1836.25 1112.66 L1837.91 1112.66 L1837.91 1104.92 L1839.57 1104.92 L1839.57 1058.96 L1841.22 1058.96 L1841.22 1047.87 L1842.88 1047.87 L1842.88 1083.66 L1844.54 1083.66 L1844.54 1083.66 L1846.20 1083.66 L1846.20 1058.96 L1847.86 1058.96 L1847.86 1112.66 L1849.51 1112.66 L1849.51 1168.64 L1851.17 1168.64 L1851.17 1070.85 L1852.83 1070.85 L1852.83 1097.53 L1854.49 1097.53 L1854.49 1037.47 L1856.15 1037.47 L1856.15 1090.45 L1857.80 1090.45 L1857.80 1112.66 L1859.46 1112.66 L1859.46 1097.53 L1861.12 1097.53 L1861.12 1083.66 L1862.78 1083.66 L1862.78 1058.96 L1864.44 1058.96 L1864.44 1090.45 L1866.10 1090.45 L1866.10 1070.85 L1867.75 1070.85 L1867.75 1157.90 L1869.41 1157.90 L1869.41 1112.66 L1871.07 1112.66 L1871.07 1112.66 L1872.73 1112.66 L1872.73 989.61 L1874.39 989.61 L1874.39 1090.45 L1876.04 1090.45 L1876.04 1053.32 L1877.70 1053.32 L1877.70 1147.81 L1879.36 1147.81 L1879.36 1104.92 L1881.02 1104.92 L1881.02 1037.47 L1882.68 1037.47 L1882.68 1138.31 L1884.33 1138.31 L1884.33 1097.53 L1885.99 1097.53 L1885.99 1064.80 L1887.65 1064.80 L1887.65 1157.90 L1889.31 1157.90 L1889.31 1104.92 L1890.97 1104.92 L1890.97 1083.66 L1892.63 1083.66 L1892.63 1205.76 L1894.28 1205.76 L1894.28 1083.66 L1895.94 1083.66 L1895.94 1077.13 L1897.60 1077.13 L1897.60 1083.66 L1899.26 1083.66 L1899.26 1129.31 L1900.92 1129.31 L1900.92 1077.13 L1902.57 1077.13 L1902.57 1090.45 L1904.23 1090.45 L1904.23 1083.66 L1905.89 1083.66 L1905.89 1090.45 L1907.55 1090.45 L1907.55 1058.96 L1909.21 1058.96 L1909.21 1077.13 L1910.86 1077.13 L1910.86 1192.44 L1912.52 1192.44 L1912.52 1090.45 L1914.18 1090.45 L1914.18 1064.80 L1915.84 1064.80 L1915.84 1047.87 L1917.50 1047.87 L1917.50 1064.80 L1919.16 1064.80 L1919.16 1112.66 L1920.81 1112.66 L1920.81 1129.31 L1922.47 1129.31 L1922.47 1090.45 L1924.13 1090.45 L1924.13 1090.45 L1925.79 1090.45 L1925.79 1138.31 L1927.45 1138.31 L1927.45 1070.85 L1929.10 1070.85 L1929.10 1097.53 L1930.76 1097.53 L1930.76 1129.31 L1932.42 1129.31 L1932.42 1112.66 L1934.08 1112.66 L1934.08 1070.85 L1935.74 1070.85 L1935.74 1157.90 L1937.39 1157.90 L1937.39 1138.31 L1939.05 1138.31 L1939.05 1147.81 L1940.71 1147.81 L1940.71 1090.45 L1942.37 1090.45 L1942.37 1168.64 L1944.03 1168.64 L1944.03 1077.13 L1945.69 1077.13 L1945.69 1129.31 L1947.34 1129.31 L1947.34 1112.66 L1949.00 1112.66 L1949.00 1083.66 L1950.66 1083.66 L1950.66 1147.81 L1952.32 1147.81 L1952.32 1058.96 L1953.98 1058.96 L1953.98 1138.31 L1955.63 1138.31 L1955.63 1147.81 L1957.29 1147.81 L1957.29 1077.13 L1958.95 1077.13 L1958.95 1064.80 L1960.61 1064.80 L1960.61 1168.64 L1962.27 1168.64 L1962.27 1104.92 L1963.92 1104.92 L1963.92 1064.80 L1965.58 1064.80 L1965.58 1112.66 L1967.24 1112.66 L1967.24 1090.45 L1968.90 1090.45 L1968.90 1083.66 L1970.56 1083.66 L1970.56 1205.76 L1972.22 1205.76 L1972.22 1157.90 L1973.87 1157.90 L1973.87 1138.31 L1975.53 1138.31 L1975.53 1112.66 L1977.19 1112.66 L1977.19 1070.85 L1978.85 1070.85 L1978.85 1129.31 L1980.51 1129.31 L1980.51 1236.09 L1982.16 1236.09 L1982.16 1180.11 L1983.82 1180.11 L1983.82 1083.66 L1985.48 1083.66 L1985.48 1180.11 L1987.14 1180.11 L1987.14 1104.92 L1988.80 1104.92 L1988.80 1120.78 L1990.45 1120.78 L1990.45 1112.66 L1992.11 1112.66 L1992.11 1104.92 L1993.77 1104.92 L1993.77 1090.45 L1995.43 1090.45 L1995.43 1138.31 L1997.09 1138.31 L1997.09 1097.53 L1998.75 1097.53 L1998.75 1147.81 L2000.40 1147.81 L2000.40 1157.90 L2002.06 1157.90 L2002.06 1077.13 L2003.72 1077.13 L2003.72 1112.66 L2005.38 1112.66 L2005.38 1120.78 L2007.04 1120.78 L2007.04 1138.31 L2008.69 1138.31 L2008.69 1077.13 L2010.35 1077.13 L2010.35 1129.31 L2012.01 1129.31 L2012.01 1138.31 L2013.67 1138.31 L2013.67 1138.31 L2015.33 1138.31 L2015.33 1157.90 L2016.98 1157.90 L2016.98 1083.66 L2018.64 1083.66 L2018.64 1138.31 L2020.30 1138.31 L2020.30 1120.78 L2021.96 1120.78 L2021.96 1147.81 L2023.62 1147.81 L2023.62 1129.31 L2025.28 1129.31 L2025.28 1064.80 L2026.93 1064.80 L2026.93 1120.78 L2028.59 1120.78 L2028.59 1147.81 L2030.25 1147.81 L2030.25 1083.66 L2031.91 1083.66 L2031.91 1180.11 L2033.57 1180.11 L2033.57 1104.92 L2035.22 1104.92 L2035.22 1157.90 L2036.88 1157.90 L2036.88 1112.66 L2038.54 1112.66 L2038.54 1168.64 L2040.20 1168.64 L2040.20 1168.64 L2041.86 1168.64 L2041.86 1192.44 L2043.51 1192.44 L2043.51 1129.31 L2045.17 1129.31 L2045.17 1120.78 L2046.83 1120.78 L2046.83 1129.31 L2048.49 1129.31 L2048.49 1147.81 L2050.15 1147.81 L2050.15 1138.31 L2051.81 1138.31 L2051.81 1097.53 L2053.46 1097.53 L2053.46 1112.66 L2055.12 1112.66 L2055.12 1120.78 L2056.78 1120.78 L2056.78 1180.11 L2058.44 1180.11 L2058.44 1104.92 L2060.10 1104.92 L2060.10 1168.64 L2061.75 1168.64 L2061.75 1157.90 L2063.41 1157.90 L2063.41 1168.64 L2065.07 1168.64 L2065.07 1090.45 L2066.73 1090.45 L2066.73 1129.31 L2068.39 1129.31 L2068.39 1205.76 L2070.04 1205.76 L2070.04 1180.11 L2071.70 1180.11 L2071.70 1192.44 L2073.36 1192.44 L2073.36 1220.23 L2075.02 1220.23 L2075.02 1180.11 L2076.68 1180.11 L2076.68 1129.31 L2078.34 1129.31 L2078.34 1157.90 L2079.99 1157.90 L2079.99 1120.78 L2081.65 1120.78 L2081.65 1138.31 L2083.31 1138.31 L2083.31 1168.64 L2084.97 1168.64 L2084.97 1220.23 L2086.63 1220.23 L2086.63 1129.31 L2088.28 1129.31 L2088.28 1157.90 L2089.94 1157.90 L2089.94 1129.31 L2091.60 1129.31 L2091.60 1180.11 L2093.26 1180.11 L2093.26 1129.31 L2094.92 1129.31 L2094.92 1180.11 L2096.57 1180.11 L2096.57 1112.66 L2098.23 1112.66 L2098.23 1168.64 L2099.89 1168.64 L2099.89 1180.11 L2101.55 1180.11 L2101.55 1157.90 L2103.21 1157.90 L2103.21 1120.78 L2104.87 1120.78 L2104.87 1236.09 L2106.52 1236.09 L2106.52 1157.90 L2108.18 1157.90 L2108.18 1236.09 L2109.84 1236.09 L2109.84 1157.90 L2111.50 1157.90 L2111.50 1236.09 L2113.16 1236.09 L2113.16 1157.90 L2114.81 1157.90 L2114.81 1097.53 L2116.47 1097.53 L2116.47 1097.53 L2117.00 1097.53" fill="none" stroke="#000094" stroke-width="3" stroke-linejoin="miter" stroke-linecap="butt"/>
<line x1="1035.71" y1="824.63" x2="2086.29" y2="1163.64" stroke="#da0000" stroke-width="6"/>
<rect x="234.50" y="285.50" width="1884.00" height="1151.00" fill="none" stroke="#000" stroke-width="3"/>
<line x1="234.50" y1="1436.50" x2="234.50" y2="1398.00" stroke="#000" stroke-width="3"/>
<line x1="287.56" y1="1436.50" x2="287.56" y2="1417.00" stroke="#000" stroke-width="3"/>
<line x1="340.62" y1="1436.50" x2="340.62" y2="1417.00" stroke="#000" stroke-width="3"/>
<line x1="393.68" y1="1436.50" x2="393.68" y2="1417.00" stroke="#000" stroke-width="3"/>
<line x1="446.74" y1="1436.50" x2="446.74" y2="1417.00" stroke="#000" stroke-width="3"/>
<line x1="499.80" y1="1436.50" x2="499.80" y2="1398.00" stroke="#000" stroke-width="3"/>
<line x1="552.86" y1="1436.50" x2="552.86" y2="1417.00" stroke="#000" stroke-width="3"/>
<line x1="605.92" y1="1436.50" x2="605.92" y2="1417.00" stroke="#000" stroke-width="3"/>
<line x1="658.98" y1="1436.50" x2="658.98" y2="1417.00" stroke="#000" stroke-width="3"/>
<line x1="712.04" y1="1436.50" x2="712.04" y2="1417.00" stroke="#000" stroke-width="3"/>
<line x1="765.10" y1="1436.50" x2="765.10" y2="1398.00" stroke="#000" stroke-width="3"/>
<line x1="818.16" y1="1436.50" x2="818.16" y2="1417.00" stroke="#000" stroke-width="3"/>
<line x1="871.22" y1="1436.50" x2="871.22" y2="1417.00" stroke="#000" stroke-width="3"/>
<line x1="924.28" y1="1436.50" x2="924.28" y2="1417.00" stroke="#000" stroke-width="3"/>
<line x1="977.34" y1="1436.50" x2="977.34" y2="1417.00" stroke="#000" stroke-width="3"/>
<line x1="1030.40" y1="1436.50" x2="1030.40" y2="1398.00" stroke="#000" stroke-width="3"/>
<line x1="1083.46" y1="1436.50" x2="1083.46" y2="1417.00" stroke="#000" stroke-width="3"/>
<line x1="1136.52" y1="1436.50" x2="1136.52" y2="1417.00" stroke="#000" stroke-width="3"/>
<line x1="1189.58" y1="1436.50" x2="1189.58" y2="1417.00" stroke="#000" stroke-width="3"/>
<line x1="1242.64" y1="1436.50" x2="1242.64" y2="1417.00" stroke="#000" stroke-width="3"/>
<line x1="1295.70" y1="1436.50" x2="1295.70" y2="1398.00" stroke="#000" stroke-width="3"/>
<line x1="1348.76" y1="1436.50" x2="1348.76" y2="1417.00" stroke="#000" stroke-width="3"/>
<line x1="1401.82" y1="1436.50" x2="1401.82" y2="1417.00" stroke="#000" stroke-width="3"/>
<line x1="1454.88" y1="1436.50" x2="1454.88" y2="1417.00" stroke="#000" stroke-width="3"/>
<line x1="1507.94" y1="1436.50" x2="1507.94" y2="1417.00" stroke="#000" stroke-width="3"/>
<line x1="1561.00" y1="1436.50" x2="1561.00" y2="1398.00" stroke="#000" stroke-width="3"/>
<line x1="1614.06" y1="1436.50" x2="1614.06" y2="1417.00" stroke="#000" stroke-width="3"/>
<line x1="1667.12" y1="1436.50" x2="1667.12" y2="1417.00" stroke="#000" stroke-width="3"/>
<line x1="1720.18" y1="1436.50" x2="1720.18" y2="1417.00" stroke="#000" stroke-width="3"/>
<line x1="1773.24" y1="1436.50" x2="1773.24" y2="1417.00" stroke="#000" stroke-width="3"/>
<line x1="1826.30" y1="1436.50" x2="1826.30" y2="1398.00" stroke="#000" stroke-width="3"/>
<line x1="1879.36" y1="1436.50" x2="1879.36" y2="1417.00" stroke="#000" stroke-width="3"/>
<line x1="1932.42" y1="1436.50" x2="1932.42" y2="1417.00" stroke="#000" stroke-width="3"/>
<line x1="1985.48" y1="1436.50" x2="1985.48" y2="1417.00" stroke="#000" stroke-width="3"/>
<line x1="2038.54" y1="1436.50" x2="2038.54" y2="1417.00" stroke="#000" stroke-width="3"/>
<line x1="2091.60" y1="1436.50" x2="2091.60" y2="1398.00" stroke="#000" stroke-width="3"/>
<line x1="234.50" y1="1388.52" x2="260.00" y2="1388.52" stroke="#000" stroke-width="3"/>
<line x1="234.50" y1="1351.40" x2="260.00" y2="1351.40" stroke="#000" stroke-width="3"/>
<line x1="234.50" y1="1321.07" x2="260.00" y2="1321.07" stroke="#000" stroke-width="3"/>
<line x1="234.50" y1="1295.43" x2="260.00" y2="1295.43" stroke="#000" stroke-width="3"/>
<line x1="234.50" y1="1273.21" x2="260.00" y2="1273.21" stroke="#000" stroke-width="3"/>
<line x1="234.50" y1="1253.62" x2="260.00" y2="1253.62" stroke="#000" stroke-width="3"/>
<line x1="234.50" y1="1236.09" x2="285.70" y2="1236.09" stroke="#000" stroke-width="3"/>
<line x1="234.50" y1="1120.78" x2="260.00" y2="1120.78" stroke="#000" stroke-width="3"/>
<line x1="234.50" y1="1053.32" x2="260.00" y2="1053.32" stroke="#000" stroke-width="3"/>
<line x1="234.50" y1="1005.46" x2="260.00" y2="1005.46" stroke="#000" stroke-width="3"/>
<line x1="234.50" y1="968.34" x2="260.00" y2="968.34" stroke="#000" stroke-width="3"/>
<line x1="234.50" y1="938.01" x2="260.00" y2="938.01" stroke="#000" stroke-width="3"/>
<line x1="234.50" y1="912.37" x2="260.00" y2="912.37" stroke="#000" stroke-width="3"/>
<line x1="234.50" y1="890.15" x2="260.00" y2="890.15" stroke="#000" stroke-width="3"/>
<line x1="234.50" y1="870.56" x2="260.00" y2="870.56" stroke="#000" stroke-width="3"/>
<line x1="234.50" y1="853.03" x2="285.70" y2="853.03" stroke="#000" stroke-width="3"/>
<line x1="234.50" y1="737.72" x2="260.00" y2="737.72" stroke="#000" stroke-width="3"/>
<line x1="234.50" y1="670.26" x2="260.00" y2="670.26" stroke="#000" stroke-width="3"/>
<line x1="234.50" y1="622.40" x2="260.00" y2="622.40" stroke="#000" stroke-width="3"/>
<line x1="234.50" y1="585.28" x2="260.00" y2="585.28" stroke="#000" stroke-width="3"/>
<line x1="234.50" y1="554.95" x2="260.00" y2="554.95" stroke="#000" stroke-width="3"/>
<line x1="234.50" y1="529.31" x2="260.00" y2="529.31" stroke="#000" stroke-width="3"/>
<line x1="234.50" y1="507.09" x2="260.00" y2="507.09" stroke="#000" stroke-width="3"/>
<line x1="234.50" y1="487.50" x2="260.00" y2="487.50" stroke="#000" stroke-width="3"/>
<line x1="234.50" y1="469.97" x2="285.70" y2="469.97" stroke="#000" stroke-width="3"/>
<line x1="234.50" y1="354.66" x2="260.00" y2="354.66" stroke="#000" stroke-width="3"/>
<line x1="234.50" y1="287.20" x2="260.00" y2="287.20" stroke="#000" stroke-width="3"/>
<text x="234.50" y="1488.00" font-size="51" text-anchor="middle" stroke="#000" stroke-width="0.71" >0</text>
<text x="498.30" y="1488.00" font-size="51" text-anchor="middle" stroke="#000" stroke-width="0.71" >1000</text>
<text x="762.60" y="1488.00" font-size="51" text-anchor="middle" stroke="#000" stroke-width="0.71" >2000</text>
<text x="1026.90" y="1488.00" font-size="51" text-anchor="middle" stroke="#000" stroke-width="0.71" >3000</text>
<text x="1291.20" y="1488.00" font-size="51" text-anchor="middle" stroke="#000" stroke-width="0.71" >4000</text>
<text x="1556.50" y="1488.00" font-size="51" text-anchor="middle" stroke="#000" stroke-width="0.71" >5000</text>
<text x="1823.50" y="1488.00" font-size="51" text-anchor="middle" stroke="#000" stroke-width="0.71" >6000</text>
<text x="2088.70" y="1488.00" font-size="51" text-anchor="middle" stroke="#000" stroke-width="0.71" >7000</text>
<text x="2123.60" y="1442.40" font-size="51" text-anchor="start" stroke="#000" stroke-width="0.71" >&#215;</text>
<text x="2151.80" y="1437.20" font-size="51" text-anchor="start" stroke="#000" stroke-width="0.71" >10</text>
<text x="2205.60" y="1410.20" font-size="35" text-anchor="start" stroke="#000" stroke-width="0.49" >3</text>
<text x="2121.50" y="1539.00" font-size="51" text-anchor="end" stroke="#000" stroke-width="0.71" textLength="293.3" lengthAdjust="spacingAndGlyphs">Time diff [ns]</text>
<text transform="translate(122.6 283.0) rotate(-90)" font-size="51.6" text-anchor="end" stroke="#000" stroke-width="0.72">Counts</text>
<text x="139.20" y="492.90" font-size="51" text-anchor="start" stroke="#000" stroke-width="0.71" >10</text>
<text x="192.60" y="470.40" font-size="35" text-anchor="start" stroke="#000" stroke-width="0.49" >3</text>
<text x="139.20" y="877.20" font-size="51" text-anchor="start" stroke="#000" stroke-width="0.71" >10</text>
<text x="192.90" y="857.20" font-size="35" text-anchor="start" stroke="#000" stroke-width="0.49" >2</text>
<text x="161.50" y="1257.80" font-size="51" text-anchor="start" stroke="#000" stroke-width="0.71" >10</text>
<rect x="1371.50" y="248.50" width="818.20" height="458.00" fill="#fff" stroke="#000" stroke-width="3"/>
<line x1="1371.50" y1="324.60" x2="2189.70" y2="324.60" stroke="#000" stroke-width="3"/>
<text x="1777.20" y="306.90" font-size="64.6" text-anchor="middle" stroke="#000" stroke-width="0.90" >GeS_Tdiff</text>
<text x="1412.70" y="381.10" font-size="47.4" text-anchor="start" stroke="#000" stroke-width="0.66" >Entries</text>
<text x="2147.20" y="378.00" font-size="47.4" text-anchor="end" stroke="#000" stroke-width="0.66" >178619</text>
<text x="1411.90" y="453.10" font-size="47.4" text-anchor="start" stroke="#000" stroke-width="0.66" >Integral</text>
<text x="2145.60" y="455.80" font-size="47.4" text-anchor="end" stroke="#000" stroke-width="0.66" >1.736e+05</text>
<polygon points="1431.1,509.2 1436.7,509.1 1417.8,540.7 1412.2,540.7"/>
<path d="M1412.5 516.2 C1412.5 511.6 1414.7 509.4 1416.7 509.4 C1420.9 509.4 1422.2 515.6 1424.9 523.6 C1427.6 531.6 1429.8 541.0 1434.0 541.0 C1436.5 541.0 1437.6 537.4 1437.6 533.4" fill="none" stroke="#000" stroke-width="2.3" stroke-linecap="round"/>
<text x="1438.20" y="517.00" font-size="35" text-anchor="start" stroke="#000" stroke-width="0.49" >2</text>
<text x="1459.50" y="530.80" font-size="47.4" text-anchor="start" stroke="#000" stroke-width="0.66" xml:space="preserve"> / ndf</text>
<text x="2144.20" y="533.70" font-size="47.4" text-anchor="end" stroke="#000" stroke-width="0.66" >680.5 / 638</text>
<text x="1410.90" y="611.50" font-size="47.4" text-anchor="start" stroke="#000" stroke-width="0.66" >Constant</text>
<text x="1999.00" y="609.10" font-size="47.4" text-anchor="end" stroke="#000" stroke-width="0.66" >6.33</text>
<text x="2145.60" y="609.10" font-size="47.4" text-anchor="end" stroke="#000" stroke-width="0.66" >0.02</text>
<rect x="2015.00" y="593.00" width="22.3" height="3.1"/><rect x="2024.10" y="587.00" width="3.9" height="14.9"/><rect x="2015.00" y="604.30" width="22.3" height="3.6"/>
<text x="1412.70" y="686.50" font-size="47.4" text-anchor="start" stroke="#000" stroke-width="0.66" >Rate</text>
<text x="1876.00" y="683.40" font-size="47.4" text-anchor="end" stroke="#000" stroke-width="0.66" >-5.146e-07</text>
<text x="2144.20" y="683.40" font-size="47.4" text-anchor="end" stroke="#000" stroke-width="0.66" >5.250e-09</text>
<rect x="1892.00" y="667.50" width="22.3" height="3.1"/><rect x="1901.10" y="661.50" width="3.9" height="14.9"/><rect x="1892.00" y="678.80" width="22.3" height="3.6"/>
<rect x="443.61" y="1449.75" width="25.75" height="40.29" fill="#fff"/><path d="M454.16 1488.00 L459.40 1488.00 L459.40 1451.94 L455.44 1451.94 C453.53 1457.81 449.73 1458.62 445.75 1458.93 L445.75 1462.76 L454.16 1462.76 Z" fill="#000"/>
<rect x="2153.84" y="1398.95" width="25.75" height="40.29" fill="#fff"/><path d="M2164.40 1437.20 L2169.63 1437.20 L2169.63 1401.14 L2165.67 1401.14 C2163.76 1407.01 2159.96 1407.82 2155.98 1408.13 L2155.98 1411.95 L2164.40 1411.95 Z" fill="#000"/>
<rect x="141.24" y="454.65" width="25.75" height="40.29" fill="#fff"/><path d="M151.80 492.90 L157.03 492.90 L157.03 456.84 L153.07 456.84 C151.16 462.71 147.36 463.52 143.38 463.83 L143.38 467.65 L151.80 467.65 Z" fill="#000"/>
<rect x="141.24" y="838.95" width="25.75" height="40.29" fill="#fff"/><path d="M151.80 877.20 L157.03 877.20 L157.03 841.14 L153.07 841.14 C151.16 847.01 147.36 847.82 143.38 848.13 L143.38 851.96 L151.80 851.96 Z" fill="#000"/>
<rect x="163.54" y="1219.55" width="25.75" height="40.29" fill="#fff"/><path d="M174.10 1257.80 L179.33 1257.80 L179.33 1221.74 L175.37 1221.74 C173.46 1227.61 169.66 1228.42 165.68 1228.73 L165.68 1232.56 L174.10 1232.56 Z" fill="#000"/>
<rect x="1990.96" y="342.45" width="23.94" height="37.45" fill="#fff"/><path d="M2000.77 378.00 L2005.64 378.00 L2005.64 344.49 L2001.95 344.49 C2000.17 349.94 1996.64 350.70 1992.95 350.98 L1992.95 354.54 L2000.77 354.54 Z" fill="#000"/>
<rect x="2096.38" y="342.45" width="23.94" height="37.45" fill="#fff"/><path d="M2106.19 378.00 L2111.06 378.00 L2111.06 344.49 L2107.37 344.49 C2105.60 349.94 2102.07 350.70 2098.37 350.98 L2098.37 354.54 L2106.19 354.54 Z" fill="#000"/>
<rect x="1922.15" y="420.25" width="23.94" height="37.45" fill="#fff"/><path d="M1931.96 455.80 L1936.83 455.80 L1936.83 422.29 L1933.15 422.29 C1931.37 427.74 1927.84 428.50 1924.14 428.78 L1924.14 432.34 L1931.96 432.34 Z" fill="#000"/>
<rect x="1703.96" y="647.85" width="23.94" height="37.45" fill="#fff"/><path d="M1713.77 683.40 L1718.64 683.40 L1718.64 649.89 L1714.96 649.89 C1713.18 655.34 1709.65 656.10 1705.95 656.38 L1705.95 659.94 L1713.77 659.94 Z" fill="#000"/>
</svg>
</body></html>
